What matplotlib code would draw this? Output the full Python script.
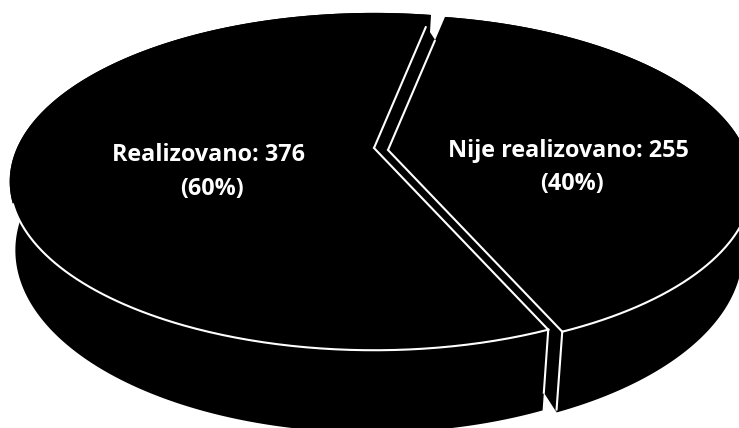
import numpy as np
import matplotlib
matplotlib.use("Agg")
import matplotlib.pyplot as plt
from matplotlib.patches import Polygon

categories = ["Nije realizovano", "Realizovano"]
values = [255, 376]
percent_labels = ["(40%)", "(60%)"]

plt.rcParams['font.family'] = ['Open Sans', 'DejaVu Sans']
fig = plt.figure(figsize=(7.39, 4.28), dpi=100)
ax = fig.add_axes([0, 0, 1, 1])
ax.set_xlim(0, 739); ax.set_ylim(428, 0); ax.axis('off')

A, B, K, D, SHRINK, SHIFT = 357.0, 162.0, 0.199, 66.0, 0.979, -2.0
START = np.deg2rad(11.0)

def proj(theta, c, r=1.0, low=False):
    u, v = r*np.sin(theta), r*np.cos(theta)
    w = 1 + K*v
    x, y = A*u/w, -B*v/w
    if low:
        x = x*SHRINK + SHIFT
        y = y + D/w
    return c[0]+x, c[1]+y

fr = np.array(values)/sum(values)
edges = START + 2*np.pi*np.concatenate([[0], np.cumsum(fr)])
centers = [(388, 150), (374, 148)]
rim_limits = [(np.deg2rad(105), edges[1]), (edges[1], np.deg2rad(251))]

for i, c in enumerate(centers):
    t = np.linspace(edges[i], edges[i+1], 300)
    xt, yt = proj(t, c)
    xb, yb = proj(t, c, low=True)
    ax.add_patch(Polygon(np.c_[np.r_[xt, xb[::-1]], np.r_[yt, yb[::-1]]], fc='k', ec='none', zorder=1))
    ax.add_patch(Polygon(np.c_[np.r_[c[0], xt], np.r_[c[1], yt]], fc='k', ec='none', zorder=2))

# the gap between the two slices shows their black inner walls
e_top, e_low = edges[0], edges[1]
rt = proj(e_low, centers[0]); rb = proj(e_low, centers[0], low=True)
lt = proj(e_low, centers[1]); lb = proj(e_low, centers[1], low=True)
lmid = (lt[0]+0.78*(lb[0]-lt[0]), lt[1]+0.78*(lb[1]-lt[1]))
tl = proj(e_top, centers[1], r=0.90); tr = proj(e_top, centers[0], r=0.80)
ax.add_patch(Polygon([centers[1], tl, tr, centers[0], rt, rb, lmid, lt], fc='k', ec='none', zorder=3))

lw = 1.5
for c, r_end in [(centers[1], 0.90), (centers[0], 0.80)]:
    x, y = proj(e_top, c, r=r_end)
    ax.plot([c[0], x], [c[1], y], color='w', lw=lw, zorder=4, solid_capstyle='butt')
    ax.plot([c[0], proj(e_low, c)[0]], [c[1], proj(e_low, c)[1]], color='w', lw=lw, zorder=4)
for i, c in enumerate(centers):
    a, b = rim_limits[i]
    t = np.linspace(a, b, 200)
    x, y = proj(t, c)
    ax.plot(x, y, color='w', lw=lw, zorder=4)
ax.plot([rt[0], rb[0]], [rt[1], rb[1]-3], color='w', lw=lw, zorder=4)
ax.plot([lt[0], lmid[0]], [lt[1], lmid[1]], color='w', lw=lw, zorder=4)

kw = dict(color='w', fontweight='bold', fontsize=16.8, ha='center', va='center', zorder=5)
ax.text(208.5, 155, f"{categories[1]}: {values[1]}", **kw)
ax.text(212, 189, percent_labels[1], **kw)
ax.text(568, 151, f"{categories[0]}: {values[0]}", **kw)
ax.text(572, 184, percent_labels[0], **kw)
fig.savefig('out.png', dpi=100)
